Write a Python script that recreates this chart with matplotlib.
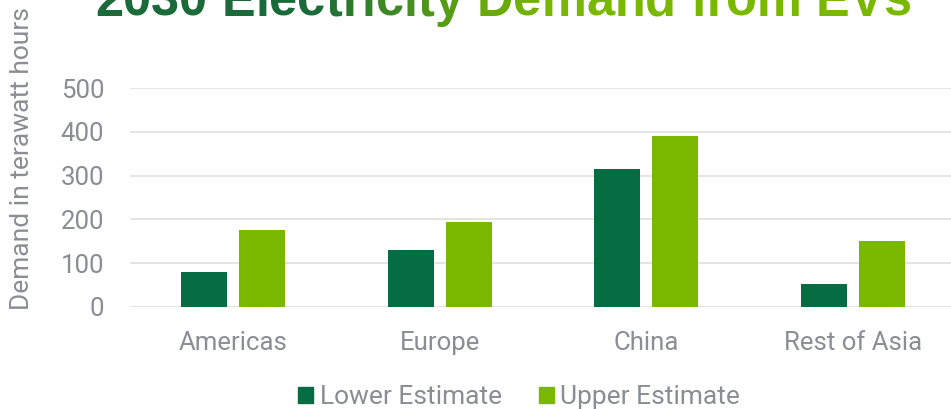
import numpy as np
import matplotlib
matplotlib.use("Agg")
import matplotlib.pyplot as plt
from matplotlib.patches import Patch
from matplotlib.colors import to_rgb

regions = ["Americas", "Europe", "China", "Rest of Asia"]
lower_estimate = [80, 130, 315, 52]
upper_estimate = [175, 195, 390, 150]
y_ticks = [0, 100, 200, 300, 400, 500]

DARK = "#066c44"
LIGHT = "#7ab800"
GRAY = "#8a8d93"
GRID = "#e2e2e2"

plt.rcParams["font.family"] = ["Roboto", "DejaVu Sans"]

fig = plt.figure(figsize=(9.51, 4.09), dpi=100)
ax = fig.add_axes([0.1367, 0.2494, 0.8686, 0.5354])

x = np.arange(len(regions))
w = 0.223
off = 0.141
ax.bar(x - off, lower_estimate, w, color=DARK, zorder=3, label="Lower Estimate")
ax.bar(x + off, upper_estimate, w, color=LIGHT, zorder=3, label="Upper Estimate")

ax.set_xlim(-0.5, 3.5)
ax.set_ylim(0, 500)
ax.set_yticks(y_ticks)
ax.set_xticks(x)
ax.set_xticklabels(regions)
ax.yaxis.grid(True, color=GRID, lw=1.3, zorder=0)
ax.set_axisbelow(True)
for s in ax.spines.values():
    s.set_visible(False)
ax.tick_params(axis="both", length=0, labelsize=18.5, labelcolor=GRAY)
ax.tick_params(axis="y", pad=18.5)
ax.tick_params(axis="x", pad=17)

fig.text(22 / 951, 0.6125, "Demand in terawatt hours", rotation=90,
         ha="center", va="center", fontsize=19, color=GRAY)

# legend at bottom
handles = [Patch(color=DARK, label="Lower Estimate"),
           Patch(color=LIGHT, label="Upper Estimate")]
fig.legend(handles=handles, loc="center", bbox_to_anchor=(0.546, 0.029),
           ncol=2, frameon=False, fontsize=19, labelcolor=GRAY,
           handlelength=0.57, handleheight=0.57, handletextpad=0.25,
           columnspacing=1.4, borderpad=0, borderaxespad=0)

# title with a dark-to-light green gradient, clipped at the top like the source
title = "2030 Electricity Demand from EVs"
renderer = fig.canvas.get_renderer()
probe = fig.text(0, 0, "", family="Liberation Sans", weight="bold", fontsize=36)

def width_px(s, size):
    probe.set_fontsize(size)
    probe.set_text(s + "|")
    wa = probe.get_window_extent(renderer).width
    probe.set_text("|")
    return wa - probe.get_window_extent(renderer).width

target = 817
size = 36 * target / width_px(title, 36)
x0 = 95
c0, c1 = np.array(to_rgb("#1b6b3a")), np.array(to_rgb(LIGHT))
for i, ch in enumerate(title):
    if ch == " ":
        continue
    t = np.clip((i - 8) / 11, 0, 1)
    col = c0 + (c1 - c0) * t
    xp = x0 + width_px(title[:i], size) if i else x0
    fig.text(xp / 951, 1 - 16 / 409, ch, family="Liberation Sans", weight="bold",
             fontsize=size, color=col, ha="left", va="baseline")
probe.remove()

fig.savefig("out.png", dpi=100)
